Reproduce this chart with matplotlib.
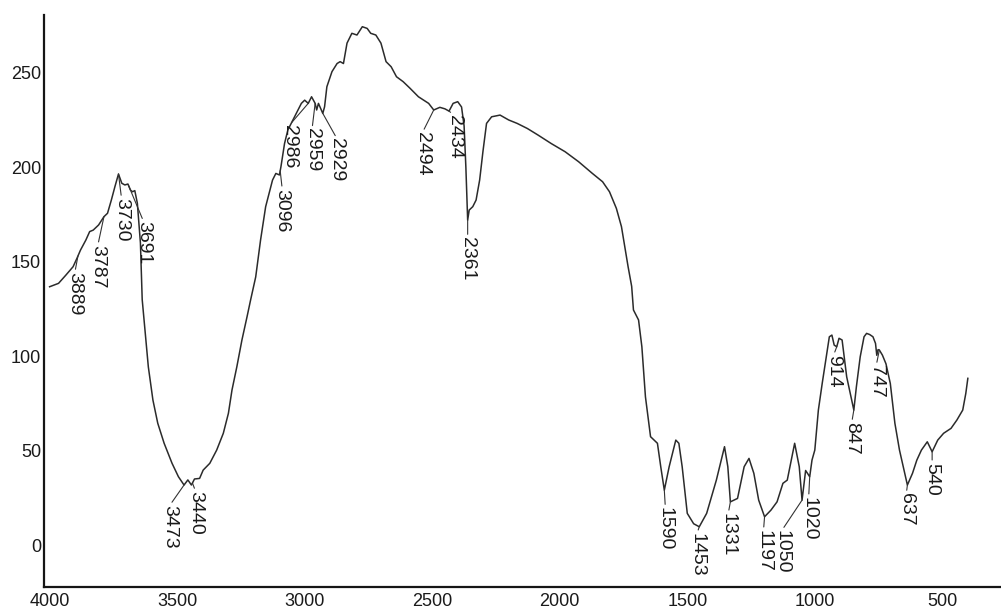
import matplotlib
matplotlib.use("Agg")
import matplotlib.pyplot as plt
import numpy as np

plt.rcParams['font.family'] = ['Liberation Sans', 'DejaVu Sans']

# FTIR spectrum (wavenumber cm-1, transmittance)
wavenumber = [
    4000, 3965, 3936, 3908, 3893, 3879, 3858, 3843, 3829, 3808,
    3787, 3773, 3758, 3744, 3730, 3717, 3705, 3693, 3683, 3675,
    3666, 3656, 3644, 3637, 3625, 3613, 3595, 3576, 3551, 3520,
    3495, 3473, 3458, 3444, 3432, 3412, 3398, 3372, 3345, 3319,
    3299, 3285, 3266, 3246, 3226, 3212, 3192, 3173, 3153, 3126,
    3113, 3099, 3093, 3079, 3066, 3046, 3033, 3013, 3000, 2986,
    2973, 2959, 2953, 2946, 2929, 2922, 2913, 2893, 2873, 2861,
    2848, 2834, 2815, 2795, 2774, 2755, 2741, 2721, 2701, 2681,
    2661, 2640, 2614, 2587, 2554, 2514, 2494, 2470, 2450, 2434,
    2418, 2400, 2385, 2375, 2368, 2361, 2355, 2341, 2328, 2314,
    2301, 2287, 2267, 2234, 2200, 2167, 2127, 2086, 2033, 1979,
    1926, 1872, 1832, 1805, 1778, 1758, 1745, 1732, 1718, 1711,
    1691, 1678, 1664, 1644, 1617, 1604, 1590, 1571, 1545, 1533,
    1520, 1500, 1475, 1453, 1424, 1386, 1354, 1341, 1331, 1303,
    1277, 1258, 1239, 1220, 1197, 1172, 1148, 1125, 1108, 1079,
    1061, 1050, 1036, 1020, 1011, 1000, 986, 971, 957, 943,
    933, 924, 914, 905, 893, 875, 847, 837, 822, 807,
    797, 785, 772, 762, 757, 752, 747, 735, 721, 704,
    686, 668, 650, 637, 617, 600, 582, 559, 540, 518,
    495, 466, 443, 420, 408, 400,
]
transmittance = [
    136.8, 138.6, 143.0, 147.4, 151.8, 156.2, 161.5, 166.0, 166.8, 169.5,
    173.9, 175.7, 182.7, 189.8, 196.5, 191.6, 190.7, 191.2, 188.0, 187.1,
    187.7, 181.0, 160.0, 130.0, 112.1, 94.4, 76.8, 64.5, 53.9, 43.3,
    36.2, 31.8, 34.5, 31.8, 35.0, 35.3, 39.7, 43.3, 50.3, 59.2,
    69.8, 82.1, 94.4, 108.6, 120.9, 129.8, 142.0, 161.5, 179.2, 193.3,
    196.8, 196.0, 200.4, 212.6, 219.8, 225.1, 228.6, 233.9, 235.6, 233.9,
    237.4, 233.9, 230.4, 233.9, 228.6, 232.1, 242.7, 250.7, 255.0, 256.0,
    255.0, 265.8, 271.0, 270.1, 274.5, 273.6, 271.0, 270.1, 265.8, 256.0,
    253.3, 248.0, 245.4, 241.9, 237.4, 233.9, 230.4, 231.8, 231.0, 229.8,
    233.9, 234.8, 232.0, 222.0, 200.0, 172.1, 177.4, 179.2, 182.7, 193.3,
    208.5, 223.3, 226.8, 227.7, 225.1, 223.3, 220.6, 217.2, 212.6, 208.3,
    203.0, 196.8, 192.4, 187.1, 178.3, 168.6, 158.0, 147.4, 137.0, 124.5,
    119.2, 105.0, 78.5, 57.4, 53.9, 41.5, 29.1, 41.5, 55.6, 53.9,
    41.5, 16.8, 11.3, 9.7, 16.8, 34.4, 52.1, 41.5, 22.9, 24.7,
    41.5, 45.9, 38.0, 23.8, 15.0, 18.5, 22.9, 32.7, 34.4, 53.9,
    41.5, 23.8, 39.5, 36.2, 45.0, 50.3, 71.5, 85.6, 98.0, 110.3,
    111.2, 105.9, 105.0, 109.5, 108.6, 89.1, 71.5, 83.8, 99.7, 110.3,
    112.1, 111.5, 110.3, 106.8, 100.5, 103.5, 103.3, 100.6, 96.0, 85.6,
    64.5, 50.3, 39.7, 31.8, 38.0, 45.0, 50.3, 54.7, 49.4, 55.6,
    59.2, 61.8, 66.2, 71.5, 80.3, 88.3,
]

peak_labels = ['3889', '3787', '3730', '3691', '3473', '3440', '3096', '2986',
               '2959', '2929', '2494', '2434', '2361', '1590', '1453', '1331',
               '1197', '1050', '1020', '914', '847', '747', '637', '540']
peak_wavenumber = [3889, 3787, 3730, 3691, 3473, 3440, 3096, 2986,
                   2959, 2929, 2494, 2434, 2361, 1590, 1453, 1331,
                   1197, 1050, 1020, 914, 847, 747, 637, 540]
x_ticks = [4000, 3500, 3000, 2500, 2000, 1500, 1000, 500]
y_ticks = [0, 50, 100, 150, 200, 250]

# label placement offsets (pixels) relative to the marked point
label_offsets = [(-3, -16), (-6, -28), (3, -24), (15, -36), (-14, -20), (3, -8),
                 (2, -18), (-19, -22), (-3, -25), (14, -25), (-11, -22), (5, -4),
                 (0, -17), (1, -17), (-2, -6), (-2, -11), (-1, -13), (-20, -30),
                 (-1, -20), (-3, -8), (-2, -12), (-3, -15), (-1, -8), (0, -11)]

fig = plt.figure(figsize=(10.01, 6.15), dpi=100)
ax = fig.add_axes([0.04396, 0.04553, 0.95604, 0.93008])

ax.plot(wavenumber, transmittance, color='#2b2b2b', lw=1.1)
ax.set_xlim(4022, 270)
ax.set_ylim(-22.2, 280.7)

for s in ['top', 'right']:
    ax.spines[s].set_visible(False)
for s in ['left', 'bottom']:
    ax.spines[s].set_linewidth(1.6)
    ax.spines[s].set_color('#151515')

ax.set_xticks(x_ticks)
ax.set_xticklabels([str(t) for t in x_ticks])
ax.set_yticks(y_ticks)
ax.set_yticklabels([str(t) for t in y_ticks])
ax.tick_params(axis='x', length=0, pad=4, labelsize=13, labelcolor='#1a1a1a')
ax.tick_params(axis='y', length=0, pad=2, labelsize=13, labelcolor='#1a1a1a')

wn_arr = np.array(wavenumber)[::-1]
tr_arr = np.array(transmittance)[::-1]
for lab, w, (dx, dy) in zip(peak_labels, peak_wavenumber, label_offsets):
    v = np.interp(w, wn_arr, tr_arr)
    ax.annotate(lab, xy=(w, v), xytext=(dx, dy), textcoords='offset pixels',
                rotation=-90, ha='center', va='top', fontsize=14, color='#1a1a1a',
                arrowprops=dict(arrowstyle='-', lw=0.8, color='#333333',
                                shrinkA=0, shrinkB=0, relpos=(0.5, 1.0)))

fig.savefig('out.png', dpi=100)
